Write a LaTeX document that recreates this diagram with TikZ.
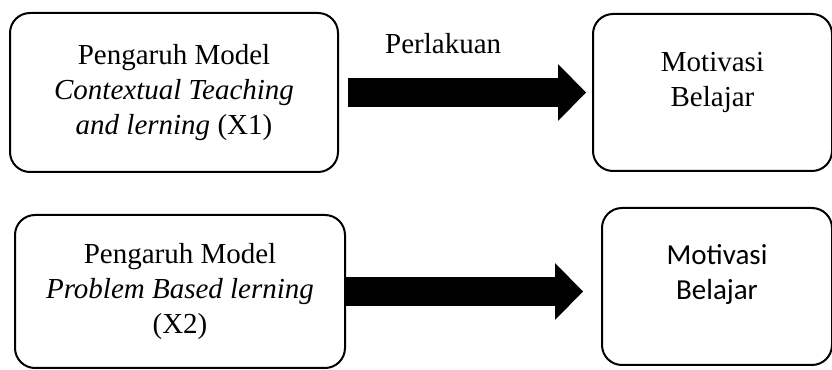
\documentclass[tikz,border=0pt]{standalone}
\usepackage{fontspec}
\setmainfont{Liberation Serif}
\newfontfamily\calibri{Carlito}
\usepackage{tikz}
\usetikzlibrary{positioning, arrows.meta}
\tikzstyle{box} = [rectangle, rounded corners=10pt, draw=black, line width=1pt,
align=center, font=\fontsize{14.5}{17.5}\selectfont]
\tikzstyle{txt} = [align=center, font=\fontsize{14.5}{17.5}\selectfont]
\tikzstyle{bigarrow} = [line width=14.5pt, -{Triangle[length=14pt, width=28.5pt, line width=0pt]}]

\begin{document}
\begin{tikzpicture}[x=1pt, y=1pt]

      \useasboundingbox (0,0) rectangle (416,185);

      \node (CTL) [box, minimum width=164pt, minimum height=79.5pt] at (87,138.75)
            {Pengaruh Model\\ \textit{Contextual Teaching}\\ \textit{and lerning} (X1)};
      \node (MB1) [box, minimum width=119.5pt, minimum height=78.5pt, right=126.5pt of CTL,
            label={[txt, yshift=5pt]center:Motivasi\\ Belajar}] {};

      \node (PBL) [box, minimum width=165pt, minimum height=76.5pt] at (90,39.25)
            {Pengaruh Model\\ \textit{Problem Based lerning}\\ (X2)};
      \node (MB2) [box, minimum width=115pt, minimum height=78.5pt, right=127.5pt of PBL, yshift=2.5pt,
            label={[txt, font=\calibri\fontsize{14.5}{17.5}\selectfont, yshift=6pt]center:Motivasi\\ Belajar}] {};

      \draw [bigarrow] ([xshift=4.5pt]CTL.east) -- node[txt, pos=0.4, above=12pt, inner sep=0pt] (PL) {Perlakuan}
            ([xshift=-3pt]CTL.east -| MB1.west);
      \draw [bigarrow] (PBL.east) -- ([xshift=-9pt]PBL.east -| MB2.west);

  \end{tikzpicture}
\end{document}
